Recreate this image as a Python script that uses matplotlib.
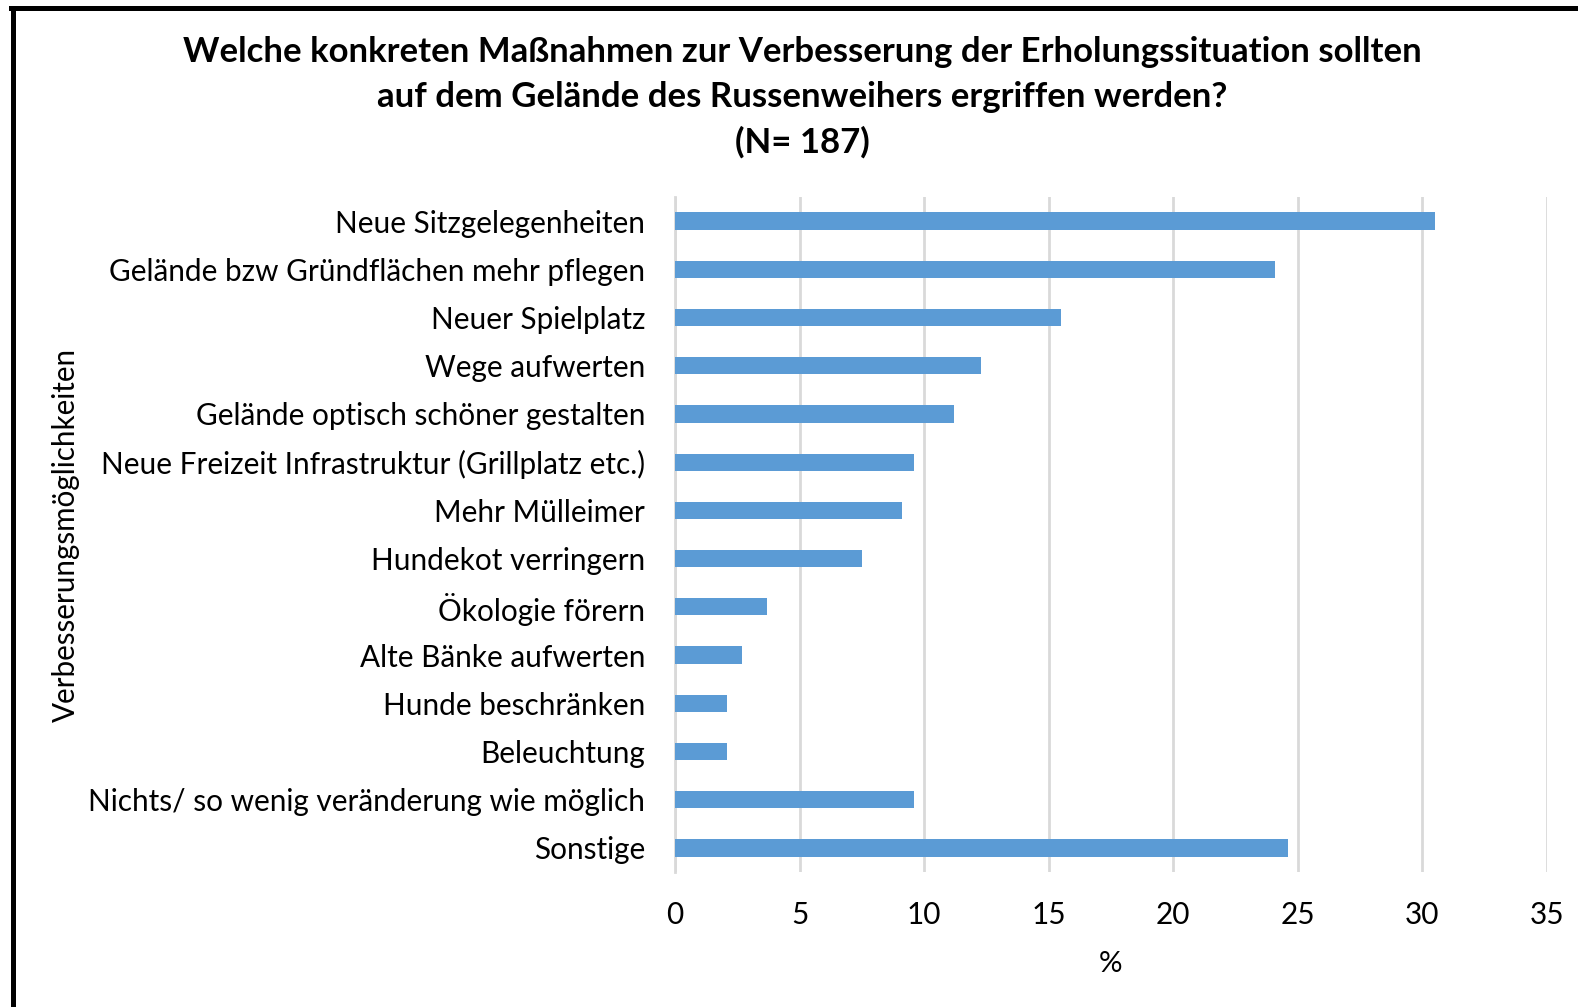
import numpy as np
import matplotlib.pyplot as plt
from matplotlib.lines import Line2D

categories = [
    "Neue Sitzgelegenheiten",
    "Gelände bzw Gründflächen mehr pflegen",
    "Neuer Spielplatz",
    "Wege aufwerten",
    "Gelände optisch schöner gestalten",
    "Neue Freizeit Infrastruktur (Grillplatz etc.)",
    "Mehr Mülleimer",
    "Hundekot verringern",
    "Ökologie förern",
    "Alte Bänke aufwerten",
    "Hunde beschränken",
    "Beleuchtung",
    "Nichts/ so wenig veränderung wie möglich",
    "Sonstige",
]
percent = [30.5, 24.1, 15.5, 12.3, 11.2, 9.6, 9.1, 7.5, 3.7, 2.7, 2.1, 2.1, 9.6, 24.6]
xticks = [0, 5, 10, 15, 20, 25, 30, 35]

plt.rcParams['font.family'] = ['Lato', 'DejaVu Sans']

W, H = 1578, 1007
fig = plt.figure(figsize=(W / 100, H / 100), dpi=100)
ax = fig.add_axes([675 / W, 1 - 872 / H, (1547 - 675) / W, (872 - 197) / H])

y = np.arange(len(categories))
ax.barh(y, percent, height=0.36, color="#5b9bd5", zorder=3)
ax.set_ylim(len(categories) - 0.5, -0.5)
ax.set_xlim(0, 35)
ax.set_xticks(xticks)
ax.set_yticks(y)
ax.set_yticklabels(categories)
ax.tick_params(axis="both", length=0, labelsize=21.4)
ax.tick_params(axis="y", pad=21.5)
ax.tick_params(axis="x", pad=21)
ax.grid(axis="x", color="#d9d9d9", linewidth=2, zorder=0)
for s in ["top", "right", "bottom"]:
    ax.spines[s].set_visible(False)
ax.spines["left"].set_color("#d9d9d9")
ax.spines["left"].set_linewidth(2)

ax.set_xlabel("%", fontsize=21.2, labelpad=16)
fig.text(66 / W, 1 - 535 / H, "Verbesserungsmöglichkeiten", rotation=90,
         fontsize=21.3, ha="center", va="center")

title = ("Welche konkreten Maßnahmen zur Verbesserung der Erholungssituation sollten\n"
         "auf dem Gelände des Russenweihers ergriffen werden?\n(N= 187)")
fig.text(802 / W, 1 - 97 / H, title, fontsize=25, fontweight="bold",
         ha="center", va="center", linespacing=1.49)

# frame lines (left and top only, as in the source)
fig.add_artist(Line2D([12.5 / W, 12.5 / W], [0, 1 - 7.5 / H], color="black", linewidth=3.6))
fig.add_artist(Line2D([10.5 / W, 1], [1 - 7.5 / H, 1 - 7.5 / H], color="black", linewidth=3.6))

fig.savefig("out.png", dpi=100)
